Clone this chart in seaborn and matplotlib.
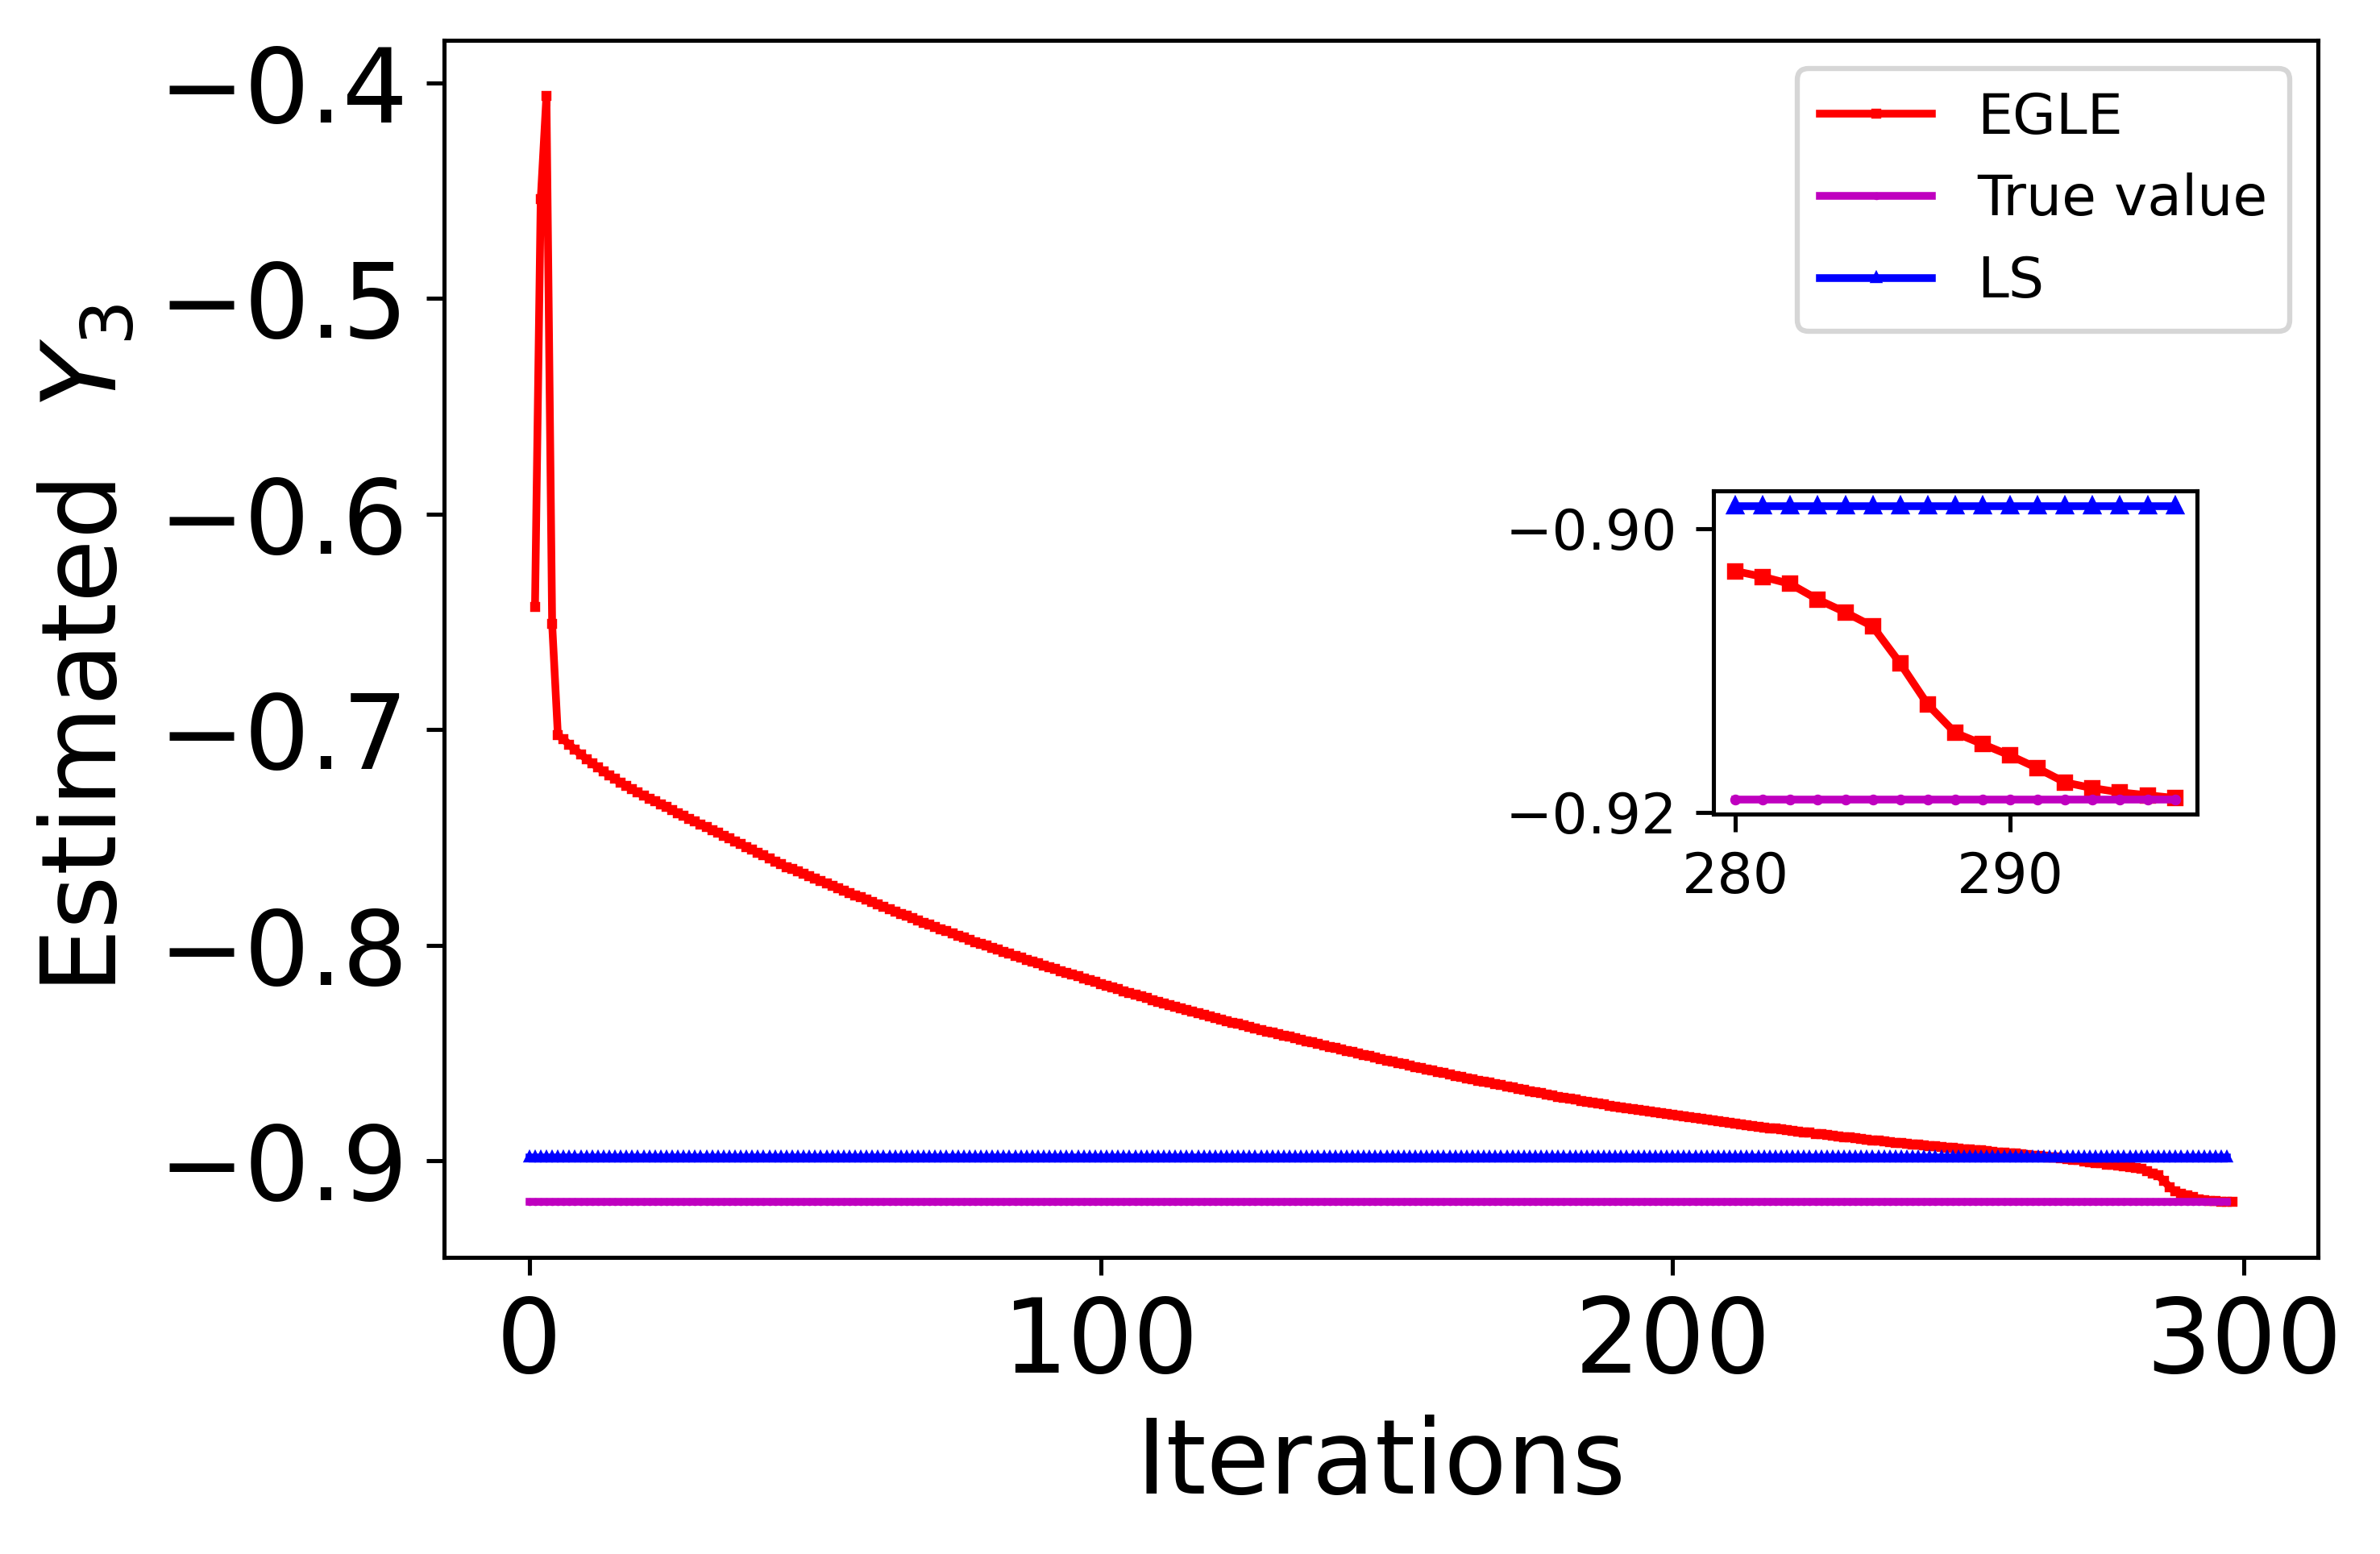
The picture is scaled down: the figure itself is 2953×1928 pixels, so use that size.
import numpy as np
import pandas as pd
import matplotlib
matplotlib.use("Agg")
import matplotlib.pyplot as plt
import seaborn as sns

# ---------------- data ----------------
iters_egle = list(range(1, 299))
egle = [
    -0.6430, -0.4540, -0.4058, -0.6510, -0.7025, -0.7045, -0.7070, -0.7093, -0.7115, -0.7136,   # 1-10
    -0.7156, -0.7175, -0.7194, -0.7212, -0.7229, -0.7246, -0.7262, -0.7277, -0.7292, -0.7306,   # 11-20
    -0.7320, -0.7333, -0.7346, -0.7359, -0.7373, -0.7387, -0.7401, -0.7414, -0.7427, -0.7440,   # 21-30
    -0.7453, -0.7466, -0.7479, -0.7492, -0.7505, -0.7518, -0.7531, -0.7545, -0.7558, -0.7571,   # 31-40
    -0.7584, -0.7597, -0.7611, -0.7624, -0.7637, -0.7648, -0.7659, -0.7670, -0.7681, -0.7692,   # 41-50
    -0.7703, -0.7714, -0.7725, -0.7736, -0.7747, -0.7758, -0.7769, -0.7779, -0.7790, -0.7800,   # 51-60
    -0.7811, -0.7822, -0.7832, -0.7843, -0.7854, -0.7864, -0.7875, -0.7885, -0.7895, -0.7905,   # 61-70
    -0.7915, -0.7925, -0.7935, -0.7945, -0.7955, -0.7965, -0.7975, -0.7985, -0.7994, -0.8003,   # 71-80
    -0.8012, -0.8021, -0.8030, -0.8040, -0.8049, -0.8058, -0.8067, -0.8076, -0.8085, -0.8094,   # 81-90
    -0.8102, -0.8111, -0.8120, -0.8128, -0.8137, -0.8145, -0.8154, -0.8163, -0.8171, -0.8180,   # 91-100
    -0.8188, -0.8197, -0.8205, -0.8213, -0.8222, -0.8230, -0.8238, -0.8246, -0.8255, -0.8263,   # 101-110
    -0.8270, -0.8278, -0.8285, -0.8293, -0.8300, -0.8308, -0.8315, -0.8323, -0.8330, -0.8338,   # 111-120
    -0.8345, -0.8352, -0.8359, -0.8365, -0.8372, -0.8379, -0.8386, -0.8393, -0.8400, -0.8406,   # 121-130
    -0.8413, -0.8420, -0.8426, -0.8433, -0.8439, -0.8445, -0.8452, -0.8458, -0.8465, -0.8471,   # 131-140
    -0.8477, -0.8484, -0.8490, -0.8496, -0.8503, -0.8509, -0.8515, -0.8522, -0.8528, -0.8535,   # 141-150
    -0.8541, -0.8547, -0.8553, -0.8559, -0.8565, -0.8570, -0.8576, -0.8582, -0.8588, -0.8594,   # 151-160
    -0.8600, -0.8606, -0.8611, -0.8617, -0.8622, -0.8628, -0.8633, -0.8639, -0.8644, -0.8650,   # 161-170
    -0.8655, -0.8661, -0.8666, -0.8671, -0.8677, -0.8682, -0.8687, -0.8692, -0.8697, -0.8703,   # 171-180
    -0.8708, -0.8713, -0.8717, -0.8722, -0.8726, -0.8730, -0.8735, -0.8739, -0.8744, -0.8748,   # 181-190
    -0.8752, -0.8757, -0.8761, -0.8765, -0.8769, -0.8772, -0.8776, -0.8780, -0.8784, -0.8788,   # 191-200
    -0.8792, -0.8795, -0.8799, -0.8803, -0.8807, -0.8810, -0.8814, -0.8817, -0.8821, -0.8824,   # 201-210
    -0.8828, -0.8831, -0.8835, -0.8838, -0.8842, -0.8845, -0.8849, -0.8852, -0.8855, -0.8858,   # 211-220
    -0.8862, -0.8865, -0.8868, -0.8871, -0.8875, -0.8878, -0.8881, -0.8884, -0.8887, -0.8890,   # 221-230
    -0.8893, -0.8896, -0.8899, -0.8902, -0.8905, -0.8908, -0.8911, -0.8913, -0.8916, -0.8919,   # 231-240
    -0.8921, -0.8924, -0.8927, -0.8929, -0.8932, -0.8934, -0.8937, -0.8939, -0.8942, -0.8944,   # 241-250
    -0.8946, -0.8949, -0.8951, -0.8953, -0.8956, -0.8958, -0.8961, -0.8963, -0.8966, -0.8968,   # 251-260
    -0.8971, -0.8973, -0.8976, -0.8979, -0.8981, -0.8984, -0.8987, -0.8989, -0.8992, -0.8995,   # 261-270
    -0.8998, -0.9002, -0.9006, -0.9010, -0.9013, -0.9017, -0.9020, -0.9023, -0.9026, -0.9030,   # 271-280
    -0.9034, -0.9039, -0.9050, -0.9059, -0.9069, -0.9095, -0.9124, -0.9144, -0.9152, -0.9160,   # 281-290
    -0.9169, -0.9179, -0.9183, -0.9186, -0.9188, -0.9190, -0.9190, -0.9192,                     # 291-298
]
iters_ref = list(range(0, 298))
true_value = [-0.9191] * len(iters_ref)
ls_value = [-0.8984] * len(iters_ref)

inset_start, inset_end = 280, 296
x_ticks = [0, 100, 200, 300]
y_ticks = [-0.4, -0.5, -0.6, -0.7, -0.8, -0.9]
inset_xticks = [280, 290]
inset_yticks = [-0.90, -0.92]

# ---------------- figure ----------------
DPI = 460
fig = plt.figure(figsize=(2953 / DPI, 1928 / DPI), dpi=DPI)
ax = fig.add_axes([0.1866, 0.1909, 0.7873, 0.7832])

df_egle = pd.DataFrame({"it": iters_egle, "val": egle})
df_true = pd.DataFrame({"it": iters_ref, "val": true_value})
df_ls = pd.DataFrame({"it": iters_ref, "val": ls_value})

common = dict(linewidth=1.5, markeredgewidth=1.0)
sns.lineplot(data=df_egle, x="it", y="val", ax=ax, color="r", marker="s",
             markersize=1, markeredgecolor="r", label="EGLE", **common)
sns.lineplot(data=df_true, x="it", y="val", ax=ax, color="m", marker=".",
             markersize=1, markeredgecolor="m", label="True value", **common)
sns.lineplot(data=df_ls, x="it", y="val", ax=ax, color="b", marker="^",
             markersize=1, markeredgecolor="b", label="LS", **common)

ax.set_xticks(x_ticks)
ax.set_yticks(y_ticks)
ax.tick_params(labelsize=20)
ax.set_xlabel("Iterations", fontsize=20)
ax.set_ylabel("Estimated  $Y_3$", fontsize=20)
ax.legend(loc="upper right", fontsize=10.9)

# ---------------- inset ----------------
axin = fig.add_axes([0.7199, 0.4761, 0.2032, 0.2078])
sel_e = df_egle[(df_egle.it >= inset_start) & (df_egle.it <= inset_end)]
sel_t = df_true[(df_true.it >= inset_start) & (df_true.it <= inset_end)]
sel_l = df_ls[(df_ls.it >= inset_start) & (df_ls.it <= inset_end)]
sns.lineplot(data=sel_e, x="it", y="val", ax=axin, color="r", marker="s",
             markersize=2.2, markeredgecolor="r", **common)
sns.lineplot(data=sel_t, x="it", y="val", ax=axin, color="m", marker=".",
             markersize=2.2, markeredgecolor="m", **common)
sns.lineplot(data=sel_l, x="it", y="val", ax=axin, color="b", marker="^",
             markersize=2.2, markeredgecolor="b", **common)
axin.set_xticks(inset_xticks)
axin.set_yticks(inset_yticks)
axin.tick_params(labelsize=10.9)
axin.set_xlabel("")
axin.set_ylabel("")

fig.savefig("out.png", dpi=DPI)
